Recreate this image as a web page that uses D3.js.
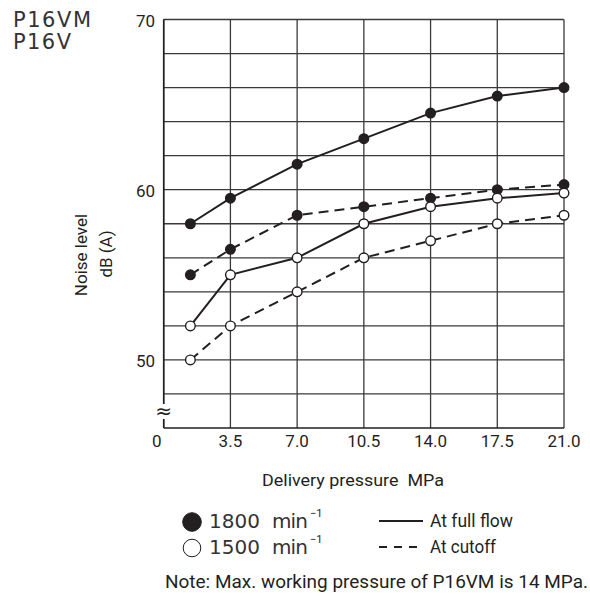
<!DOCTYPE html>
<html><head><meta charset="utf-8">
<script src="https://cdn.jsdelivr.net/npm/d3@7"></script>
<style>
body{margin:0;background:#fff;}
svg{display:block;}
.cond{font-family:Roboto,"Liberation Sans",sans-serif;}
.wide{font-family:"DejaVu Sans",sans-serif;}
</style>
</head><body>
<script>
const pressures = [1.4, 3.5, 7.0, 10.5, 14.0, 17.5, 21.0];
const fullFlow1800 = [58, 59.5, 61.5, 63, 64.5, 65.5, 66];
const cutoff1800 = [55, 56.5, 58.5, 59, 59.5, 60, 60.3];
const fullFlow1500 = [52, 55, 56, 58, 59, 59.5, 59.8];
const cutoff1500 = [50, 52, 54, 56, 57, 58, 58.5];
const xTickValues = [0, 3.5, 7.0, 10.5, 14.0, 17.5, 21.0];
const xTickLabels = ["0", "3.5", "7.0", "10.5", "14.0", "17.5", "21.0"];
const yTickValues = [50, 60, 70];
const yGridValues = [48, 50, 52, 54, 56, 58, 60, 62, 64, 66, 68, 70];

const series = [
  {vals: fullFlow1800, filled: true, dashed: false},
  {vals: cutoff1800, filled: true, dashed: true},
  {vals: fullFlow1500, filled: false, dashed: false},
  {vals: cutoff1500, filled: false, dashed: true}
];

const W = 590, H = 597;
const svg = d3.select("body").append("svg").attr("width", W).attr("height", H);
const x = d3.scaleLinear().domain([0, 21]).range([163.7, 564]);
const y = d3.scaleLinear().domain([46, 70]).range([428, 19.5]);

const ink = "#231f20";

// grid
const g = svg.append("g");
g.selectAll(".hg").data(yGridValues).join("line")
  .attr("x1", x(0)).attr("x2", x(21)).attr("y1", d => y(d)).attr("y2", d => y(d))
  .attr("stroke", "#3a3a3a").attr("stroke-width", 1.3);
g.selectAll(".vg").data(xTickValues).join("line")
  .attr("x1", d => x(d)).attr("x2", d => x(d)).attr("y1", y(46)).attr("y2", y(70))
  .attr("stroke", "#3a3a3a").attr("stroke-width", 1.3);
g.append("line").attr("x1", x(0)).attr("x2", x(0)).attr("y1", y(46)).attr("y2", y(70)).attr("stroke", ink).attr("stroke-width", 1.6);
g.append("line").attr("x1", x(0)).attr("x2", x(21)).attr("y1", y(46)).attr("y2", y(46)).attr("stroke", ink).attr("stroke-width", 1.6);

// break symbol on the axis
svg.append("rect").attr("x", x(0) - 8).attr("y", 404).attr("width", 16).attr("height", 15).attr("fill", "#fff");
svg.append("text").attr("x", x(0)).attr("y", 418).attr("text-anchor", "middle")
  .attr("font-family", "DejaVu Sans").attr("font-size", 20).attr("fill", ink).text("≈");

// x tick labels
svg.selectAll(".xt").data(xTickValues).join("text")
  .attr("class", "cond").attr("x", (d, i) => i === 0 ? x(d) - 7 : x(d))
  .attr("y", 447).attr("text-anchor", "middle").attr("font-size", 17).attr("fill", ink)
  .text((d, i) => xTickLabels[i]);

// y tick labels
svg.selectAll(".yt").data(yTickValues).join("text")
  .attr("class", "cond").attr("x", 155).attr("y", d => y(d) + 7)
  .attr("text-anchor", "end").attr("font-size", 17).attr("fill", ink)
  .text(d => d);

// lines
const line = d3.line().x((d, i) => x(pressures[i])).y(d => y(d));
series.forEach(s => {
  svg.append("path").attr("d", line(s.vals)).attr("fill", "none")
    .attr("stroke", ink).attr("stroke-width", 2)
    .attr("stroke-dasharray", s.dashed ? "10,6" : null);
});
series.forEach(s => {
  svg.append("g").selectAll("circle").data(s.vals).join("circle")
    .attr("cx", (d, i) => x(pressures[i])).attr("cy", d => y(d)).attr("r", 4.8)
    .attr("fill", s.filled ? ink : "#fff").attr("stroke", ink).attr("stroke-width", 1.4);
});

// model labels
svg.append("text").attr("class", "wide").attr("x", 13).attr("y", 27).attr("font-size", 21)
  .attr("textLength", 78).attr("lengthAdjust", "spacing").attr("fill", "#333").text("P16VM");
svg.append("text").attr("class", "wide").attr("x", 13).attr("y", 49).attr("font-size", 21)
  .attr("textLength", 58).attr("lengthAdjust", "spacing").attr("fill", "#333").text("P16V");

// y label
svg.append("text").attr("class", "cond").attr("transform", "translate(87,255) rotate(-90)")
  .attr("font-size", 17).attr("fill", ink).attr("text-anchor", "middle").text("Noise level");
svg.append("text").attr("class", "cond").attr("transform", "translate(112,254) rotate(-90)")
  .attr("font-size", 17).attr("fill", ink).attr("text-anchor", "middle").text("dB (A)");

// x label
svg.append("text").attr("class", "cond").attr("x", 262).attr("y", 486)
  .attr("font-size", 17).attr("fill", ink).attr("textLength", 182).attr("lengthAdjust", "spacingAndGlyphs")
  .attr("xml:space", "preserve").text("Delivery pressure  MPa");

// legend: speeds
const speeds = [{label: "1800", filled: true, yy: 522}, {label: "1500", filled: false, yy: 548}];
speeds.forEach(s => {
  svg.append("circle").attr("cx", 192).attr("cy", s.yy).attr("r", s.filled ? 9.3 : 8.8)
    .attr("fill", s.filled ? ink : "#fff").attr("stroke", ink).attr("stroke-width", 1);
  svg.append("text").attr("class", "wide").attr("x", 209).attr("y", s.yy + 6)
    .attr("font-size", 20).attr("fill", "#333").text(s.label);
  svg.append("text").attr("class", "wide").attr("x", 272).attr("y", s.yy + 6)
    .attr("font-size", 20).attr("fill", "#333")
    .attr("textLength", 36).attr("lengthAdjust", "spacing").text("min");
  svg.append("text").attr("class", "cond").attr("x", 310).attr("y", s.yy - 5)
    .attr("font-size", 11).attr("fill", ink).text("−1");
});

// legend: lines
const lineTypes = [{label: "At full flow", dashed: false, yy: 521, w: 83}, {label: "At cutoff", dashed: true, yy: 547, w: 66}];
lineTypes.forEach(l => {
  svg.append("line").attr("x1", 379).attr("x2", 423).attr("y1", l.yy).attr("y2", l.yy)
    .attr("stroke", ink).attr("stroke-width", 2).attr("stroke-dasharray", l.dashed ? "8,7" : null);
  svg.append("text").attr("class", "cond").attr("x", 430).attr("y", l.yy + 6)
    .attr("font-size", 18).attr("fill", ink).attr("textLength", l.w).attr("lengthAdjust", "spacingAndGlyphs").text(l.label);
});

// note
svg.append("text").attr("class", "cond").attr("x", 165).attr("y", 588)
  .attr("font-size", 18).attr("fill", ink).attr("textLength", 423).attr("lengthAdjust", "spacingAndGlyphs")
  .text("Note: Max. working pressure of P16VM is 14 MPa.");
</script>
</body></html>
